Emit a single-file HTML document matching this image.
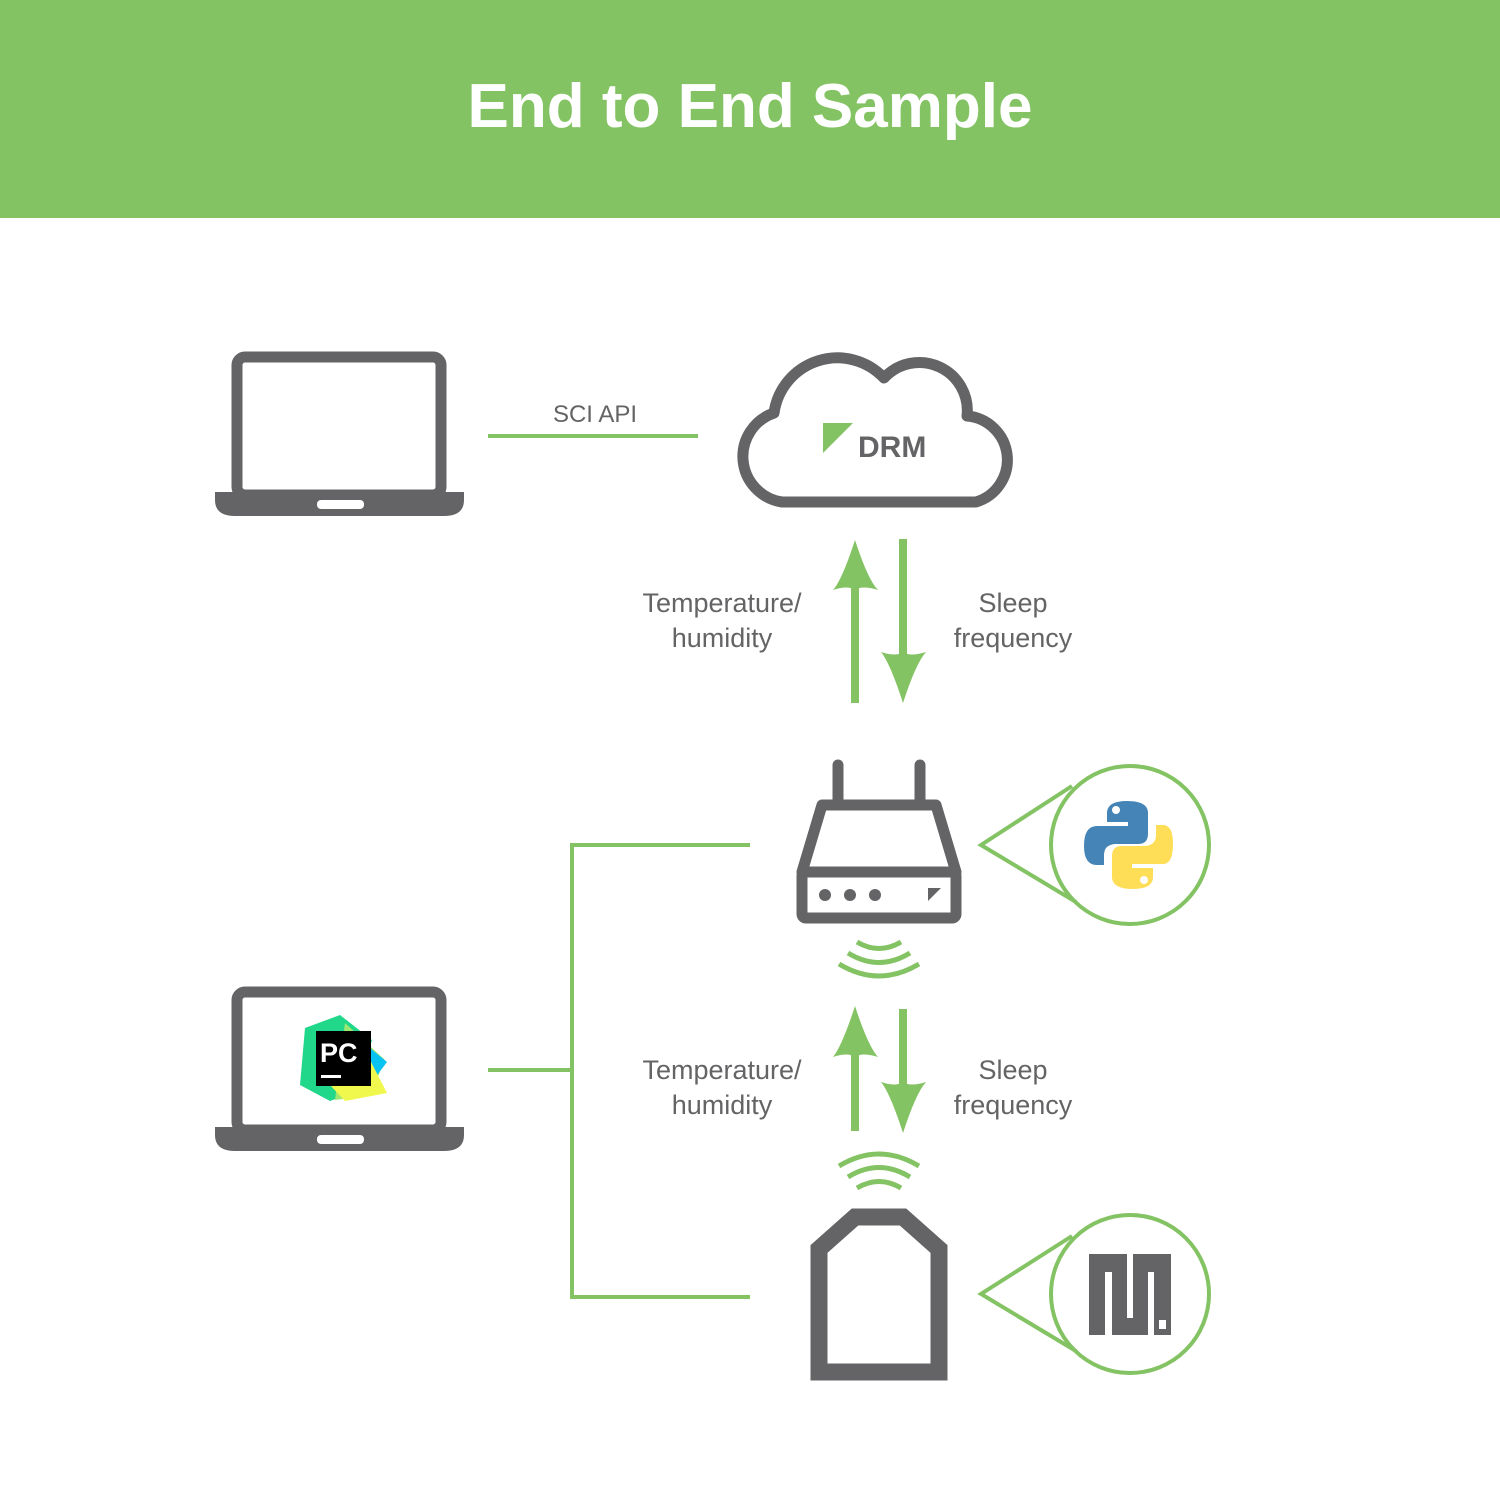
<!DOCTYPE html>
<html><head><meta charset="utf-8"><style>html,body{margin:0;padding:0;background:#fff}svg{display:block}</style></head>
<body>
<svg width="1500" height="1500" viewBox="0 0 1500 1500" xmlns="http://www.w3.org/2000/svg" font-family="Liberation Sans, sans-serif">
<rect x="0" y="0" width="1500" height="218" fill="#84c363"/>
<text x="750" y="127" text-anchor="middle" font-size="62" font-weight="bold" fill="#fff">End to End Sample</text>

<!-- laptop 1 -->
<g>
<rect x="237" y="357" width="204" height="138" rx="8" fill="none" stroke="#646466" stroke-width="11"/>
<path d="M215 492 H464 V500 Q464 516 444 516 H235 Q215 516 215 500 Z" fill="#646466"/>
<rect x="317" y="500" width="47" height="9" rx="4" fill="#fff"/>
</g>
<!-- laptop 2 -->
<g transform="translate(0,635)">
<rect x="237" y="357" width="204" height="138" rx="8" fill="none" stroke="#646466" stroke-width="11"/>
<path d="M215 492 H464 V500 Q464 516 444 516 H235 Q215 516 215 500 Z" fill="#646466"/>
<rect x="317" y="500" width="47" height="9" rx="4" fill="#fff"/>
</g>
<!-- PyCharm logo -->
<g>
<polygon points="305,1028 340,1015 372,1040 355,1092 330,1101 300,1085" fill="#21d789"/>
<polygon points="345,1023 385,1060 370,1095 335,1100" fill="#9fe870"/>
<polygon points="360,1040 387,1062 375,1078" fill="#07c3f2"/>
<polygon points="330,1085 370,1060 387,1093 345,1101" fill="#f0f84d"/>
<rect x="316" y="1031" width="55" height="55" fill="#000"/>
<text x="320" y="1062" font-size="27" font-weight="bold" fill="#fff">PC</text>
<rect x="321" y="1075" width="20" height="3" fill="#fff"/>
</g>

<!-- SCI API -->
<line x1="488" y1="436" x2="698" y2="436" stroke="#84c363" stroke-width="4"/>
<text x="595" y="422" text-anchor="middle" font-size="24" fill="#646466">SCI API</text>

<!-- cloud -->
<path d="M782 502 A46 46 0 0 1 774 413 A64 64 0 0 1 884 378 A48 48 0 0 1 967 416 A44 44 0 0 1 976 502 Z" fill="none" stroke="#646466" stroke-width="11" stroke-linejoin="round"/>
<polygon points="823,423 853,423 823,453" fill="#84c363"/>
<text x="858" y="457" font-size="30" font-weight="bold" fill="#646466">DRM</text>

<!-- arrows -->
<g fill="#84c363">
<rect x="851" y="580" width="8" height="123"/>
<path d="M855 540 Q842 580 833 590 Q848 585 855 590 Q862 585 878 590 Q868 580 855 540Z"/>
<rect x="899" y="539" width="8" height="120"/>
<path d="M903 703 Q890 663 881 652 Q896 657 903 652 Q910 657 926 652 Q916 663 903 703Z"/>
<rect x="851" y="1045" width="8" height="86"/>
<path d="M855 1006 Q842 1046 833 1057 Q848 1052 855 1057 Q862 1052 878 1057 Q868 1046 855 1006Z"/>
<rect x="899" y="1009" width="8" height="85"/>
<path d="M903 1133 Q890 1093 881 1082 Q896 1087 903 1082 Q910 1087 926 1082 Q916 1093 903 1133Z"/>
</g>
<g font-size="27" fill="#646466" text-anchor="middle">
<text x="722" y="612">Temperature/</text>
<text x="722" y="647">humidity</text>
<text x="1013" y="612">Sleep</text>
<text x="1013" y="647">frequency</text>
<text x="722" y="1079">Temperature/</text>
<text x="722" y="1114">humidity</text>
<text x="1013" y="1079">Sleep</text>
<text x="1013" y="1114">frequency</text>
</g>

<!-- router -->
<g stroke="#646466" stroke-width="11" fill="none" stroke-linejoin="round">
<line x1="838" y1="765" x2="838" y2="803" stroke-linecap="round"/>
<line x1="920" y1="765" x2="920" y2="803" stroke-linecap="round"/>
<path d="M822 805 H936 L956 872 H802 Z"/>
<rect x="802" y="872" width="154" height="46" rx="4"/>
</g>
<g fill="#646466">
<circle cx="825" cy="895" r="6"/><circle cx="850" cy="895" r="6"/><circle cx="875" cy="895" r="6"/>
<polygon points="928,888 941,888 928,901"/>
</g>
<!-- wifi -->
<g fill="none" stroke="#84c363" stroke-width="5">
<path d="M857 942 Q879 955 901 942"/>
<path d="M848 953 Q879 972 910 953"/>
<path d="M839 964 Q879 988 919 964"/>
<path d="M857 1188 Q879 1175 901 1188"/>
<path d="M848 1177 Q879 1158 910 1177"/>
<path d="M839 1166 Q879 1142 919 1166"/>
</g>

<!-- callouts -->
<g fill="none" stroke="#84c363" stroke-width="4">
<circle cx="1130" cy="845" r="79"/>
<polyline points="1072,786 981,845 1076,902"/>
<circle cx="1130" cy="1294" r="79"/>
<polyline points="1072,1236 981,1294 1076,1351"/>
</g>
<!-- python logo -->
<g>
<path d="M1127 801 Q1108 801 1107 812 V822 H1128 V826 H1097 Q1084 826 1084 846 Q1084 865 1097 865 H1104 V855 Q1104 845 1115 844 H1138 Q1148 844 1148 834 V812 Q1147 801 1127 801Z" fill="#4584b6"/>
<circle cx="1116" cy="810" r="4" fill="#fff"/>
<path d="M1133 889 Q1152 889 1153 878 V868 H1132 V864 H1163 Q1173 864 1173 844 Q1173 825 1163 825 H1156 V835 Q1156 845 1145 846 H1122 Q1112 846 1112 856 V878 Q1113 889 1133 889Z" fill="#ffde57"/>
<circle cx="1144" cy="880" r="4" fill="#fff"/>
</g>
<!-- micropython logo -->
<rect x="1089" y="1254" width="82" height="81" fill="#646466"/>
<g fill="#fff">
<rect x="1105" y="1272" width="7" height="63"/>
<rect x="1127" y="1254" width="6" height="64"/>
<rect x="1148" y="1272" width="6" height="63"/>
<rect x="1159" y="1320" width="7" height="9"/>
</g>

<!-- sensor -->
<polygon points="819,1249 855,1217 903,1217 939,1249 939,1372 819,1372" fill="none" stroke="#646466" stroke-width="17"/>

<!-- tree connector -->
<g fill="none" stroke="#84c363" stroke-width="4">
<polyline points="750,845 572,845 572,1297 750,1297"/>
<line x1="488" y1="1070" x2="572" y2="1070"/>
</g>
</svg>
</body></html>
